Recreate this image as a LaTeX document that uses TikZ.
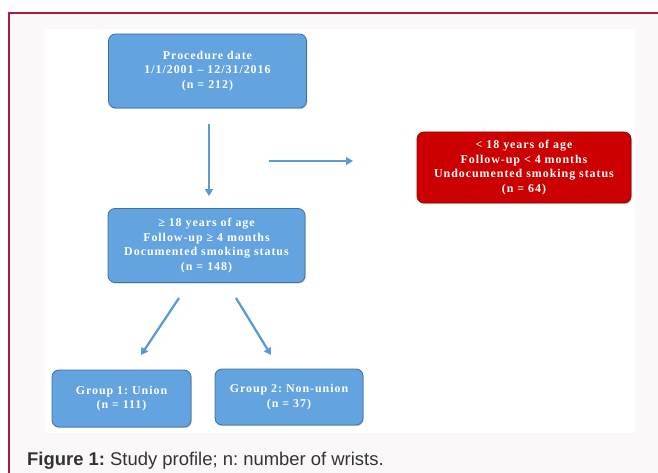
\documentclass[tikz,border=0pt]{standalone}
\usepackage{fontspec}
\setmainfont{Liberation Serif}
\newfontfamily\boxfont[LetterSpace=8]{Liberation Serif}
\newfontfamily\capfont{Liberation Sans}
\usetikzlibrary{arrows.meta,shadows}
\definecolor{boxblue}{HTML}{62A3E0}
\definecolor{boxblueline}{HTML}{3E71A0}
\definecolor{boxred}{HTML}{CC0000}
\definecolor{boxredline}{HTML}{8A0A0A}
\definecolor{arrowblue}{HTML}{5B9BD5}
\definecolor{framered}{HTML}{B01A40}
\definecolor{pagegrey}{HTML}{FAF8F9}
\definecolor{captext}{HTML}{333333}
\tikzset{
  stagebox/.style={draw=boxblueline, fill=boxblue, rounded corners=7pt, line width=0.8pt,
    text=white, align=center, inner sep=0pt,
    font=\boxfont\bfseries\fontsize{12}{14.5}\selectfont,
    drop shadow={opacity=0.35, shadow xshift=0.8pt, shadow yshift=-1.2pt}},
  excludebox/.style={stagebox, draw=boxredline, fill=boxred},
  flow/.style={draw=arrowblue, line width=2.3pt, -{Triangle[length=7pt,width=8pt]}},
}
\begin{document}
\frenchspacing
\begin{tikzpicture}[x=1bp,y=-1bp]
  \useasboundingbox (0,0) rectangle (658,473);
  % page and frame
  \fill[pagegrey] (9,13) rectangle (658,473);
  \fill[white] (45,29) rectangle (635,433);
  \draw[framered, line width=1.5pt] (9,473) -- (9,13) -- (658,13);
  % boxes
  \node[stagebox, minimum width=198bp, minimum height=74bp] (proc) at (207.5,71) {Procedure date\\1/1/2001 – 12/31/2016\\(n = 212)};
  \node[stagebox, minimum width=197bp, minimum height=74bp] (adult) at (206.5,245.5) {≥ 18 years of age\\Follow-up ≥ 4 months\\Documented smoking status\\(n = 148)};
  \node[excludebox, minimum width=214bp, minimum height=71bp] (excl) at (524,167.5) {< 18 years of age\\Follow-up < 4 months\\Undocumented smoking status\\(n = 64)};
  \node[stagebox, minimum width=139bp, minimum height=57bp] (union) at (121.5,398.5) {Group 1: Union\\(n = 111)};
  \node[stagebox, minimum width=148bp, minimum height=56bp] (nonunion) at (289,397) {Group 2: Non-union\\(n = 37)};
  % arrow ends
  \coordinate (exclStart) at (269,161);
  \coordinate (exclEnd) at (353,161);
  \coordinate (unionStart) at (179,298);
  \coordinate (unionEnd) at (141,355);
  \coordinate (nonunionStart) at (236,298);
  \coordinate (nonunionEnd) at (271,355);
  \draw[flow, shorten <=16bp, shorten >=12bp] (proc.south) ++(1.5,0) coordinate (procOut) -- (procOut |- adult.north);
  \draw[flow] (exclStart) -- (exclEnd);
  \draw[flow] (unionStart) -- (unionEnd);
  \draw[flow] (nonunionStart) -- (nonunionEnd);
  % caption
  \node[anchor=base west, inner sep=0pt, text=captext, font=\capfont\fontsize{18.5}{21}\selectfont] (caption) at (27,465) {\textbf{Figure 1:} Study profile; n: number of wrists.};
\end{tikzpicture}
\end{document}
